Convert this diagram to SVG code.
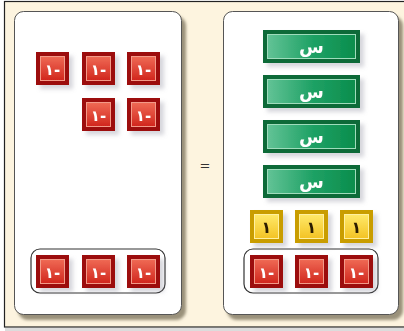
<svg xmlns="http://www.w3.org/2000/svg" width="404" height="331" viewBox="0 0 404 331">
<defs>
<linearGradient id="gRed" x1="0" y1="0" x2="0" y2="1"><stop offset="0" stop-color="#ef6a55"/><stop offset="1" stop-color="#d1261d"/></linearGradient>
<linearGradient id="gGreen" x1="0" y1="0" x2="1" y2="0"><stop offset="0" stop-color="#62c396"/><stop offset="0.5" stop-color="#20a266"/><stop offset="1" stop-color="#0a8d4c"/></linearGradient>
<linearGradient id="gYel" x1="0" y1="0" x2="0" y2="1"><stop offset="0" stop-color="#ffe96a"/><stop offset="1" stop-color="#f3c324"/></linearGradient>
<filter id="sh" x="-20%" y="-20%" width="150%" height="150%"><feDropShadow dx="4" dy="4" stdDeviation="2" flood-color="#8a8a9a" flood-opacity="0.35"/></filter>
<filter id="psh" x="-10%" y="-10%" width="120%" height="120%"><feDropShadow dx="4" dy="5" stdDeviation="1.8" flood-color="#8f8670" flood-opacity="0.9"/></filter>
</defs>
<style>
.panel{fill:#fff;stroke:#555;stroke-width:1}
.grp{fill:none;stroke:#333;stroke-width:1.2}
.red .o{fill:#9c0b0b}
.red .i{fill:url(#gRed);stroke:#f39a88;stroke-width:1}
.grn .o{fill:#0a6a38}
.grn .i{fill:url(#gGreen);stroke:#9fdcbc;stroke-width:1}
.yel .o{fill:#c99d06}
.yel .i{fill:url(#gYel);stroke:#fff0a0;stroke-width:1}
.t{font-family:"DejaVu Sans","Noto Sans",sans-serif;font-weight:bold;text-anchor:middle}
.red .t,.grn .t{fill:#fff}
.yel .t{fill:#2a1a00}
</style>
<rect x="0" y="0" width="404" height="331" fill="#fff"/>
<rect x="4.5" y="1.5" width="420" height="325.5" fill="#fdf4df" stroke="#222" stroke-width="1.2"/>
<rect x="5" y="328" width="400" height="3" fill="#dcdcdc"/>
<g id="leftPanel"><rect class="panel" x="14.5" y="11.5" width="167" height="303" rx="9" filter="url(#psh)"/></g>
<g id="rightPanel"><rect class="panel" x="223.5" y="11.5" width="175" height="303" rx="9" filter="url(#psh)"/></g>
<g id="equals"><text x="205" y="170" font-family="DejaVu Sans,sans-serif" font-size="13" fill="#333" text-anchor="middle">=</text></g>
<g id="groupLeft"><rect class="grp" x="31" y="249" width="134" height="44" rx="9"/></g>
<g id="groupRight"><rect class="grp" x="244" y="249" width="134" height="44" rx="9"/></g>
<g id="r1" class="red" filter="url(#sh)"><rect class="o" x="36" y="52" width="33" height="33"/><rect class="i" x="40.5" y="56.5" width="24" height="24"/><text class="t" x="52.5" y="74.5" font-size="15" direction="rtl">-١</text></g>
<g id="r2" class="red" filter="url(#sh)"><rect class="o" x="82" y="52" width="33" height="33"/><rect class="i" x="86.5" y="56.5" width="24" height="24"/><text class="t" x="98.5" y="74.5" font-size="15" direction="rtl">-١</text></g>
<g id="r3" class="red" filter="url(#sh)"><rect class="o" x="127" y="52" width="33" height="33"/><rect class="i" x="131.5" y="56.5" width="24" height="24"/><text class="t" x="143.5" y="74.5" font-size="15" direction="rtl">-١</text></g>
<g id="r4" class="red" filter="url(#sh)"><rect class="o" x="82" y="98" width="33" height="33"/><rect class="i" x="86.5" y="102.5" width="24" height="24"/><text class="t" x="98.5" y="120.5" font-size="15" direction="rtl">-١</text></g>
<g id="r5" class="red" filter="url(#sh)"><rect class="o" x="127" y="98" width="33" height="33"/><rect class="i" x="131.5" y="102.5" width="24" height="24"/><text class="t" x="143.5" y="120.5" font-size="15" direction="rtl">-١</text></g>
<g id="r6" class="red" filter="url(#sh)"><rect class="o" x="36" y="255" width="33" height="33"/><rect class="i" x="40.5" y="259.5" width="24" height="24"/><text class="t" x="52.5" y="277.5" font-size="15" direction="rtl">-١</text></g>
<g id="r7" class="red" filter="url(#sh)"><rect class="o" x="82" y="255" width="33" height="33"/><rect class="i" x="86.5" y="259.5" width="24" height="24"/><text class="t" x="98.5" y="277.5" font-size="15" direction="rtl">-١</text></g>
<g id="r8" class="red" filter="url(#sh)"><rect class="o" x="127" y="255" width="33" height="33"/><rect class="i" x="131.5" y="259.5" width="24" height="24"/><text class="t" x="143.5" y="277.5" font-size="15" direction="rtl">-١</text></g>
<g id="x1" class="grn" filter="url(#sh)"><rect class="o" x="263" y="30" width="97" height="33"/><rect class="i" x="267.5" y="34.5" width="88" height="24"/><text class="t" x="311.5" y="53" font-size="18">س</text></g>
<g id="x2" class="grn" filter="url(#sh)"><rect class="o" x="263" y="75" width="97" height="33"/><rect class="i" x="267.5" y="79.5" width="88" height="24"/><text class="t" x="311.5" y="98" font-size="18">س</text></g>
<g id="x3" class="grn" filter="url(#sh)"><rect class="o" x="263" y="120" width="97" height="33"/><rect class="i" x="267.5" y="124.5" width="88" height="24"/><text class="t" x="311.5" y="143" font-size="18">س</text></g>
<g id="x4" class="grn" filter="url(#sh)"><rect class="o" x="263" y="165" width="97" height="33"/><rect class="i" x="267.5" y="169.5" width="88" height="24"/><text class="t" x="311.5" y="188" font-size="18">س</text></g>
<g id="y1" class="yel" filter="url(#sh)"><rect class="o" x="250" y="210" width="33" height="33"/><rect class="i" x="254.5" y="214.5" width="24" height="24"/><text class="t" x="266.5" y="232.5" font-size="16">١</text></g>
<g id="y2" class="yel" filter="url(#sh)"><rect class="o" x="295" y="210" width="33" height="33"/><rect class="i" x="299.5" y="214.5" width="24" height="24"/><text class="t" x="311.5" y="232.5" font-size="16">١</text></g>
<g id="y3" class="yel" filter="url(#sh)"><rect class="o" x="340" y="210" width="33" height="33"/><rect class="i" x="344.5" y="214.5" width="24" height="24"/><text class="t" x="356.5" y="232.5" font-size="16">١</text></g>
<g id="r9" class="red" filter="url(#sh)"><rect class="o" x="250" y="255" width="33" height="33"/><rect class="i" x="254.5" y="259.5" width="24" height="24"/><text class="t" x="266.5" y="277.5" font-size="15" direction="rtl">-١</text></g>
<g id="r10" class="red" filter="url(#sh)"><rect class="o" x="295" y="255" width="33" height="33"/><rect class="i" x="299.5" y="259.5" width="24" height="24"/><text class="t" x="311.5" y="277.5" font-size="15" direction="rtl">-١</text></g>
<g id="r11" class="red" filter="url(#sh)"><rect class="o" x="340" y="255" width="33" height="33"/><rect class="i" x="344.5" y="259.5" width="24" height="24"/><text class="t" x="356.5" y="277.5" font-size="15" direction="rtl">-١</text></g>
<g id="connectors"/>
</svg>
